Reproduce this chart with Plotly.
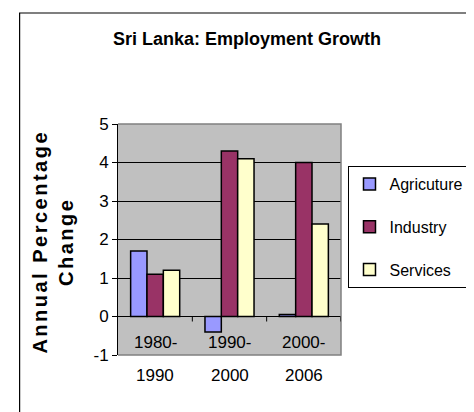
import plotly.graph_objects as go

categories = ["1980-1990", "1990-2000", "2000-2006"]
series_names = ["Agricuture", "Industry", "Services"]
agriculture = [1.7, -0.4, 0.05]
industry = [1.1, 4.3, 4.0]
services = [1.2, 4.1, 2.4]
series_values = [agriculture, industry, services]
series_colors = ["#9999FF", "#993366", "#FFFFCC"]
y_ticks = [-1, 0, 1, 2, 3, 4, 5]

FONT = "Liberation Sans, Arial, sans-serif"

fig = go.Figure()
for name, vals, col in zip(series_names, series_values, series_colors):
    fig.add_trace(go.Bar(
        x=categories, y=vals, name=name, legendgroup=name,
        marker=dict(color=col, line=dict(color="black", width=1.5)),
    ))

# plot-area geometry in pixels
L, R, T, B = 110, 348, 116, 347
W, H = 474, 412
pw, ph = R - L, B - T

def px_x(x):
    return (x - L) / pw

def px_y(y):
    return (B - y) / ph

annotations = []
for c in categories:
    a, b = c.split("-")
    annotations.append(dict(x=c, xref="x", y=px_y(334), yref="paper", text=a + "-",
                            showarrow=False, yanchor="middle", xanchor="center",
                            font=dict(family=FONT, size=17, color="black")))
    annotations.append(dict(x=c, xref="x", y=px_y(367), yref="paper", text=b,
                            showarrow=False, yanchor="middle", xanchor="center",
                            font=dict(family=FONT, size=17, color="black")))

annotations.append(dict(
    x=px_x(41), xref="paper", y=px_y(234), yref="paper",
    text="<b>Annual Percentage<br>Change</b>", textangle=-90, showarrow=False,
    xanchor="center", yanchor="middle",
    font=dict(family=FONT, size=20, color="black"),
))

shapes = [
    # outer chart border (only left and top visible)
    dict(type="rect", xref="paper", yref="paper", x0=px_x(5), x1=px_x(W + 20),
         y0=px_y(H + 20), y1=px_y(5), line=dict(color="black", width=1.2)),
    # plot area border top/right/bottom
    dict(type="path", xref="paper", yref="paper", path="M 0,1 L 1,1 L 1,0 L 0,0",
         line=dict(color="#808080", width=1.5), layer="above"),
]
for i in range(len(categories)):
    shapes.append(dict(type="line", xref="x", yref="y", x0=i + 0.5, x1=i + 0.5,
                       y0=0, y1=-0.13, line=dict(color="black", width=1)))

fig.update_layout(
    width=W, height=H,
    margin=dict(l=L, r=W - R, t=T, b=H - B),
    paper_bgcolor="white", plot_bgcolor="#C0C0C0",
    barmode="group", bargap=0.34, bargroupgap=0,
    title=dict(text="<b>Sri Lanka: Employment Growth</b>", x=239 / W, xanchor="center",
               y=1 - 31 / H, yanchor="middle",
               font=dict(family=FONT, size=18, color="black")),
    xaxis=dict(type="category", range=[-0.5, 2.5], showticklabels=False,
               showgrid=False, zeroline=False, showline=False, ticks=""),
    yaxis=dict(range=[-1, 5], tickvals=y_ticks, ticktext=[str(v) for v in y_ticks],
               showgrid=True, gridcolor="black", gridwidth=1,
               zeroline=True, zerolinecolor="black", zerolinewidth=1.2,
               showline=True, linecolor="black", linewidth=1,
               ticks="outside", ticklen=5, tickcolor="black",
               tickfont=dict(family=FONT, size=17, color="black")),
    legend=dict(x=px_x(356), xanchor="left", y=px_y(158), yanchor="top",
                bgcolor="white", bordercolor="black", borderwidth=1,
                font=dict(family=FONT, size=16, color="black"),
                tracegroupgap=19, traceorder="grouped", itemwidth=30),
    annotations=annotations, shapes=shapes,
    showlegend=True,
)

post = """
document.querySelectorAll('.annotation-text').forEach(function(t){
  if (t.textContent.indexOf('Annual') >= 0) { t.setAttribute('letter-spacing', '2.5px'); }
});
"""
fig.write_html("out.html", post_script=post)
